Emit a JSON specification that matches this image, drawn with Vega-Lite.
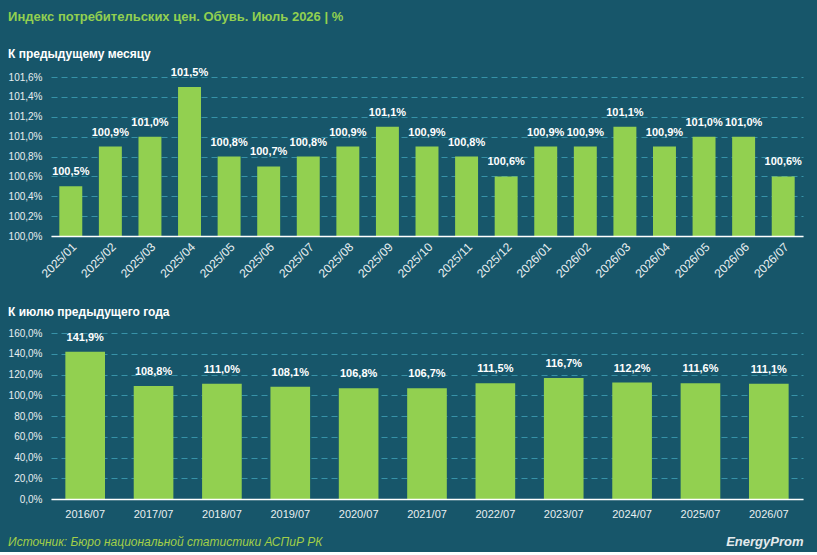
{
  "$schema": "https://vega.github.io/schema/vega-lite/v6.json",
  "background": "#17566a",
  "padding": {"left": 8, "right": 15, "top": 10, "bottom": 4},
  "config": {
    "font": "Liberation Sans",
    "locale": {"number": {"decimal": ",", "thousands": " ", "grouping": [3], "currency": ["", "%"]}},
    "view": {"stroke": null},
    "axis": {
      "labelColor": "#e8eff1",
      "domain": false,
      "ticks": false,
      "gridColor": "#3792a8",
      "gridDash": [6, 4],
      "gridWidth": 1
    },
    "title": {"color": "#ffffff", "anchor": "start", "frame": "bounds", "fontWeight": "bold"}
  },
  "title": {
    "text": "Источник: Бюро национальной статистики АСПиР РК",
    "orient": "bottom",
    "anchor": "start",
    "fontSize": 12,
    "fontStyle": "italic",
    "fontWeight": "normal",
    "color": "#a2cf48",
    "offset": -11
  },
  "vconcat": [
    {
      "title": {
        "text": "Индекс потребительских цен. Обувь. Июль 2026 | %",
        "fontSize": 13,
        "color": "#92d050",
        "offset": 24
      },
      "spacing": 26,
      "vconcat": [
        {
          "title": {"text": "К предыдущему месяцу", "fontSize": 12, "offset": 6},
          "width": 752,
          "height": 159,
          "data": {
            "values": [
              {"m": "2025/01", "v": 100.5},
              {"m": "2025/02", "v": 100.9},
              {"m": "2025/03", "v": 101.0},
              {"m": "2025/04", "v": 101.5},
              {"m": "2025/05", "v": 100.8},
              {"m": "2025/06", "v": 100.7},
              {"m": "2025/07", "v": 100.8},
              {"m": "2025/08", "v": 100.9},
              {"m": "2025/09", "v": 101.1},
              {"m": "2025/10", "v": 100.9},
              {"m": "2025/11", "v": 100.8},
              {"m": "2025/12", "v": 100.6},
              {"m": "2026/01", "v": 100.9},
              {"m": "2026/02", "v": 100.9},
              {"m": "2026/03", "v": 101.1},
              {"m": "2026/04", "v": 100.9},
              {"m": "2026/05", "v": 101.0},
              {"m": "2026/06", "v": 101.0},
              {"m": "2026/07", "v": 100.6}
            ]
          },
          "encoding": {
            "x": {
              "field": "m",
              "type": "ordinal",
              "sort": null,
              "scale": {"paddingInner": 0.42, "paddingOuter": 0.21},
              "axis": {
                "title": null,
                "labelAngle": -45,
                "labelFontSize": 12,
                "labelPadding": 5,
                "domain": true,
                "domainColor": "#ffffff",
                "domainWidth": 1.5,
                "zindex": 1
              }
            },
            "y": {
              "field": "v",
              "type": "quantitative",
              "scale": {"domain": [100, 101.6], "zero": false, "nice": false},
              "axis": {
                "title": null,
                "values": [100, 100.2, 100.4, 100.6, 100.8, 101, 101.2, 101.4, 101.6],
                "format": "$.1f",
                "labelFontSize": 10,
                "labelPadding": 9,
                "grid": true
              }
            }
          },
          "layer": [
            {"mark": {"type": "bar", "color": "#92d050"}, "encoding": {"y2": {"datum": 100}}},
            {
              "mark": {"type": "text", "dy": -14, "fontWeight": "bold", "fontSize": 11, "color": "#ffffff"},
              "encoding": {"text": {"field": "v", "type": "quantitative", "format": "$.1f"}}
            }
          ]
        },
        {
          "title": {"text": "К июлю предыдущего года", "fontSize": 12, "offset": 9},
          "width": 752,
          "height": 166,
          "data": {
            "values": [
              {"y": "2016/07", "v": 141.9},
              {"y": "2017/07", "v": 108.8},
              {"y": "2018/07", "v": 111.0},
              {"y": "2019/07", "v": 108.1},
              {"y": "2020/07", "v": 106.8},
              {"y": "2021/07", "v": 106.7},
              {"y": "2022/07", "v": 111.5},
              {"y": "2023/07", "v": 116.7},
              {"y": "2024/07", "v": 112.2},
              {"y": "2025/07", "v": 111.6},
              {"y": "2026/07", "v": 111.1}
            ]
          },
          "encoding": {
            "x": {
              "field": "y",
              "type": "ordinal",
              "sort": null,
              "scale": {"paddingInner": 0.42, "paddingOuter": 0.21},
              "axis": {
                "title": "EnergyProm",
                "titleAnchor": "end",
                "titleFontSize": 13,
                "titleFontStyle": "italic",
                "titleFontWeight": "bold",
                "titleColor": "#e4eaec",
                "titlePadding": 16,
                "labelAngle": 0,
                "labelFontSize": 11,
                "labelPadding": 9,
                "domain": true,
                "domainColor": "#ffffff",
                "domainWidth": 1.5,
                "zindex": 1
              }
            },
            "y": {
              "field": "v",
              "type": "quantitative",
              "scale": {"domain": [0, 160], "nice": false},
              "axis": {
                "title": null,
                "values": [0, 20, 40, 60, 80, 100, 120, 140, 160],
                "format": "$.1f",
                "labelFontSize": 10,
                "labelPadding": 9,
                "grid": true
              }
            }
          },
          "layer": [
            {"mark": {"type": "bar", "color": "#92d050"}},
            {
              "mark": {"type": "text", "dy": -14, "fontWeight": "bold", "fontSize": 11, "color": "#ffffff"},
              "encoding": {"text": {"field": "v", "type": "quantitative", "format": "$.1f"}}
            }
          ]
        }
      ]
    }
  ]
}
